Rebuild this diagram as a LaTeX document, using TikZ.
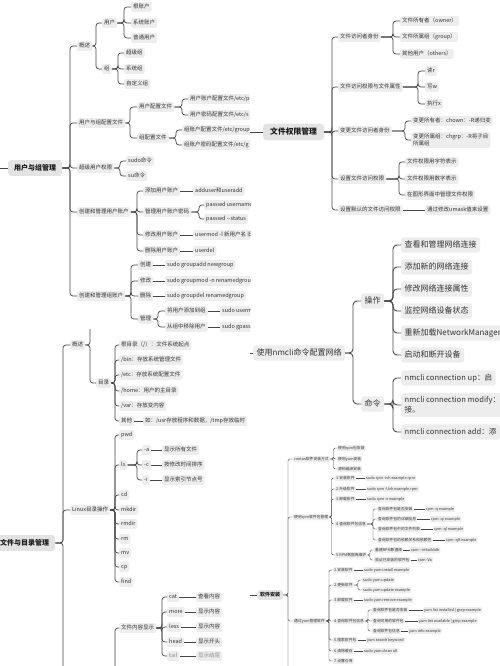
\documentclass[tikz,border=0pt]{standalone}
\usepackage{fontspec}
\setmainfont{Noto Sans CJK SC}
\usetikzlibrary{calc}
\tikzstyle{leaf}=[anchor=west, fill=black!7, rounded corners=2pt, inner sep=2pt, text=black!80, text height=4.6pt, text depth=1.2pt, font=\fontsize{5.5}{6.5}\selectfont]
\tikzstyle{bigleaf}=[leaf, inner sep=3.5pt, rounded corners=3pt, text height=6.8pt, text depth=1.6pt, font=\fontsize{8}{10}\selectfont]
\tikzstyle{cmdleaf}=[bigleaf, font=\fontsize{7.6}{10}\selectfont]
\tikzstyle{tinyleaf}=[leaf, inner sep=1pt, rounded corners=1pt, text height=3.2pt, text depth=0.8pt, font=\fontsize{3.8}{4.5}\selectfont]
\tikzstyle{rootbox}=[anchor=west, fill=black!11, rounded corners=3pt, inner xsep=6pt, inner ysep=4.5pt, text=black!90, font=\bfseries\fontsize{7}{8}\selectfont]
\tikzstyle{branch}=[draw=black!72, line width=0.7pt, rounded corners=3pt]
\tikzstyle{thickbranch}=[branch, line width=0.9pt, rounded corners=4pt]
\tikzstyle{thinbranch}=[branch, line width=0.4pt, rounded corners=1.5pt]

\begin{document}
\begin{tikzpicture}[x=1pt,y=-1pt]
\useasboundingbox (0,0) rectangle (500,666);
\fill[white] (0,0) rectangle (500,666);

\begin{scope}
\clip (0,0) rectangle (250,666);
\draw (8,168) node[rootbox] (ugm) {用户与组管理};
\coordinate (ugIn) at (0,168);
\draw (77,46) node[leaf] (ugOver) {概述};
\draw (102,23) node[leaf] (ugUser) {用户};
\draw (102,69) node[leaf] (ugGroup) {组};
\draw (131,7) node[leaf] (uRoot) {根账户};
\draw (131,23) node[leaf] (uSys) {系统账户};
\draw (131,38) node[leaf] (uNorm) {普通用户};
\draw (124,53) node[leaf] (gSuper) {超级组};
\draw (124,69) node[leaf] (gSys) {系统组};
\draw (124,84) node[leaf] (gCustom) {自定义组};
\draw (77,123) node[leaf] (ugConf) {用户与组配置文件};
\draw (137,107) node[leaf] (uConf) {用户配置文件};
\draw (137,138) node[leaf] (gConf) {组配置文件};
\draw (188,99) node[leaf] (uPasswd) {用户账户配置文件/etc/p};
\draw (188,115) node[leaf] (uShadow) {用户密码配置文件/etc/s};
\draw (182,130) node[leaf] (gGroup) {组账户配置文件/etc/group};
\draw (182,145) node[leaf] (gGshadow) {组账户密码配置文件/etc/g};
\draw (77,168) node[leaf] (suPriv) {超级用户权限};
\draw (126,161) node[leaf] (sudoCmd) {sudo命令};
\draw (126,176) node[leaf] (suCmd) {su命令};
\draw (77,212) node[leaf] (uMgr) {创建和管理用户账户};
\draw (143,191) node[leaf] (uAdd) {添加用户账户};
\draw (193,191) node[leaf] (uAddCmd) {adduser和useradd};
\draw (143,212) node[leaf] (uPwd) {管理用户账户密码};
\draw (204,205) node[leaf] (pwdSet) {passwd username};
\draw (204,219) node[leaf] (pwdStat) {passwd -{}-status};
\draw (143,235) node[leaf] (uMod) {修改用户账户};
\draw (193,235) node[leaf] (uModCmd) {usermod -l 新用户名 旧};
\draw (143,251) node[leaf] (uDel) {删除用户账户};
\draw (193,251) node[leaf] (uDelCmd) {userdel};
\draw (77,296) node[leaf] (gMgr) {创建和管理组账户};
\draw (138,265) node[leaf] (gAdd) {创建};
\draw (165,265) node[leaf] (gAddCmd) {sudo groupadd newgroup};
\draw (138,281) node[leaf] (gMod) {修改};
\draw (165,281) node[leaf] (gModCmd) {sudo groupmod -n renamedgroup};
\draw (138,296) node[leaf] (gDel) {删除};
\draw (165,296) node[leaf] (gDelCmd) {sudo groupdel renamedgroup};
\draw (138,319) node[leaf] (gManage) {管理};
\draw (165,311) node[leaf] (gJoin) {将用户添加到组};
\draw (220,311) node[leaf] (gJoinCmd) {sudo userm};
\draw (165,327) node[leaf] (gLeave) {从组中移除用户};
\draw (220,327) node[leaf] (gLeaveCmd) {sudo gpass};

\draw[branch] (ugIn) -- (ugm);
\foreach \kid in {ugOver,ugConf,suPriv,uMgr,gMgr} \draw[branch] (ugm.east) -| ($(\kid.west)+(-7,0)$) -- (\kid.west);
\foreach \kid in {ugUser,ugGroup} \draw[branch] (ugOver.east) -| ($(\kid.west)+(-6,0)$) -- (\kid.west);
\foreach \kid in {uRoot,uSys,uNorm} \draw[branch] (ugUser.east) -| ($(\kid.west)+(-7,0)$) -- (\kid.west);
\foreach \kid in {gSuper,gSys,gCustom} \draw[branch] (ugGroup.east) -| ($(\kid.west)+(-6,0)$) -- (\kid.west);
\foreach \kid in {uConf,gConf} \draw[branch] (ugConf.east) -| ($(\kid.west)+(-7,0)$) -- (\kid.west);
\foreach \kid in {uPasswd,uShadow} \draw[branch] (uConf.east) -| ($(\kid.west)+(-6,0)$) -- (\kid.west);
\foreach \kid in {gGroup,gGshadow} \draw[branch] (gConf.east) -| ($(\kid.west)+(-6,0)$) -- (\kid.west);
\foreach \kid in {sudoCmd,suCmd} \draw[branch] (suPriv.east) -| ($(\kid.west)+(-6,0)$) -- (\kid.west);
\foreach \kid in {uAdd,uPwd,uMod,uDel} \draw[branch] (uMgr.east) -| ($(\kid.west)+(-6,0)$) -- (\kid.west);
\foreach \kid in {pwdSet,pwdStat} \draw[branch] (uPwd.east) -| ($(\kid.west)+(-5,0)$) -- (\kid.west);
\foreach \kid in {gAdd,gMod,gDel,gManage} \draw[branch] (gMgr.east) -| ($(\kid.west)+(-7,0)$) -- (\kid.west);
\foreach \kid in {gJoin,gLeave} \draw[branch] (gManage.east) -| ($(\kid.west)+(-7,0)$) -- (\kid.west);
\draw[branch] (uAdd) -- (uAddCmd);
\draw[branch] (uMod) -- (uModCmd);
\draw[branch] (uDel) -- (uDelCmd);
\draw[branch] (gAdd) -- (gAddCmd);
\draw[branch] (gMod) -- (gModCmd);
\draw[branch] (gDel) -- (gDelCmd);
\draw[branch] (gJoin) -- (gJoinCmd);
\draw[branch] (gLeave) -- (gLeaveCmd);

\draw (-6,543) node[rootbox] (fdm) {文件与目录管理};
\coordinate (cutA) at (90,329);
\coordinate (cutB) at (115,672);
\coordinate (cutC) at (63,672);
\draw (70,345) node[leaf] (fdOver) {概述};
\draw (96,383) node[leaf] (fdDir) {目录};
\draw (119,345) node[leaf] (dRoot) {根目录（/）：文件系统起点};
\draw (119,360) node[leaf] (dBin) {/bin：存放系统管理文件};
\draw (119,375) node[leaf] (dEtc) {/etc：存放系统配置文件};
\draw (119,391) node[leaf] (dHome) {/home：用户的主目录};
\draw (119,406) node[leaf] (dVar) {/var：存放变内容};
\draw (119,421) node[leaf] (dOther) {其他};
\draw (143,421) node[leaf] (dOtherTxt) {如：/usr存放程序和数据，/tmp存放临时};
\draw (70,510) node[leaf] (fdOps) {Linux目录操作};
\draw (119,435) node[leaf] (oPwd) {pwd};
\draw (119,465) node[leaf] (oLs) {ls};
\draw (119,495) node[leaf] (oCd) {cd};
\draw (119,510) node[leaf] (oMkdir) {mkdir};
\draw (119,524) node[leaf] (oRmdir) {rmdir};
\draw (119,539) node[leaf] (oRm) {rm};
\draw (119,553) node[leaf] (oMv) {mv};
\draw (119,567) node[leaf] (oCp) {cp};
\draw (119,582) node[leaf] (oFind) {find};
\draw (142,450) node[leaf] (lsA) {-a};
\draw (142,465) node[leaf] (lsC) {-c};
\draw (142,480) node[leaf] (lsI) {-i};
\draw (162,450) node[leaf] (lsAt) {显示所有文件};
\draw (162,465) node[leaf] (lsCt) {按修改时间排序};
\draw (162,480) node[leaf] (lsIt) {显示索引节点号};
\draw (119,628) node[leaf] (fShow) {文件内容显示};
\draw (167,597) node[leaf] (sCat) {cat};
\draw (167,612) node[leaf] (sMore) {more};
\draw (167,627) node[leaf] (sLess) {less};
\draw (167,642) node[leaf] (sHead) {head};
\draw (167,656) node[leaf, text=black!45] (sTail) {tail};
\draw (196,597) node[leaf] (sCatT) {查看内容};
\draw (196,612) node[leaf] (sMoreT) {显示内容};
\draw (196,627) node[leaf] (sLessT) {显示内容};
\draw (196,642) node[leaf] (sHeadT) {显示开头};
\draw (196,656) node[leaf, text=black!45] (sTailT) {显示结尾};

\foreach \kid in {fdOver,fdOps} \draw[branch] (fdm.east) -| ($(\kid.west)+(-7,0)$) -- (\kid.west);
\draw[branch] (fdm.east) -| (cutC);
\draw[branch] (fdOver.east) -| (cutA);
\draw[branch] (fdOver.east) -| ($(fdDir.west)+(-6,0)$) -- (fdDir.west);
\foreach \kid in {dRoot,dBin,dEtc,dHome,dVar,dOther} \draw[branch] (fdDir.east) -| ($(\kid.west)+(-4,0)$) -- (\kid.west);
\draw[branch] (dOther) -- (dOtherTxt);
\foreach \kid in {oPwd,oLs,oCd,oMkdir,oRmdir,oRm,oMv,oCp,oFind} \draw[branch] (fdOps.east) -| ($(\kid.west)+(-4,0)$) -- (\kid.west);
\foreach \kid in {lsA,lsC,lsI} \draw[branch] (oLs.east) -| ($(\kid.west)+(-5,0)$) -- (\kid.west);
\draw[branch] (lsA) -- (lsAt);
\draw[branch] (lsC) -- (lsCt);
\draw[branch] (lsI) -- (lsIt);
\draw[branch] (cutB) |- (fShow.west);
\foreach \kid in {sCat,sMore,sLess,sHead,sTail} \draw[branch] (fShow.east) -| ($(\kid.west)+(-5,0)$) -- (\kid.west);
\draw[branch] (sCat) -- (sCatT);
\draw[branch] (sMore) -- (sMoreT);
\draw[branch] (sLess) -- (sLessT);
\draw[branch] (sHead) -- (sHeadT);
\draw[branch] (sTail) -- (sTailT);
\end{scope}

\begin{scope}
\clip (250,0) rectangle (500,666);
\draw (263,132) node[rootbox, font=\bfseries\fontsize{7.8}{9}\selectfont, inner xsep=7pt] (fpm) {文件权限管理};
\coordinate (fpIn) at (250,132);
\draw (338,37) node[leaf] (pa) {文件访问者身份};
\draw (338,87) node[leaf] (pb) {文件访问权限与文件属性};
\draw (338,131) node[leaf] (pc) {变更文件访问者身份};
\draw (338,179) node[leaf] (pd) {设置文件访问权限};
\draw (338,210) node[leaf] (pe) {设置默认的文件访问权限};
\draw (400,21) node[leaf] (pa1) {文件所有者（owner）};
\draw (400,37) node[leaf] (pa2) {文件所属组（group）};
\draw (400,54) node[leaf] (pa3) {其他用户（others）};
\draw (425,71) node[leaf] (pb1) {读r};
\draw (425,87) node[leaf] (pb2) {写w};
\draw (425,104) node[leaf] (pb3) {执行x};
\draw (411,121) node[leaf] (pc1) {变更所有者：chown：-R递归变};
\draw (411,140) node[leaf, align=left, text height=, text depth=] (pc2) {变更所属组：chgrp：-R将子目\\所属组};
\draw (405,162) node[leaf] (pd1) {文件权限用字符表示};
\draw (405,179) node[leaf] (pd2) {文件权限用数字表示};
\draw (405,195) node[leaf] (pd3) {在图形界面中管理文件权限};
\draw (425,210) node[leaf] (pe1) {通过修改umask值来设置};

\draw[branch] (fpIn) -- (fpm);
\foreach \kid in {pa,pb,pc,pd,pe} \draw[branch] (fpm.east) -| ($(\kid.west)+(-6,0)$) -- (\kid.west);
\foreach \kid in {pa1,pa2,pa3} \draw[branch] (pa.east) -| ($(\kid.west)+(-7,0)$) -- (\kid.west);
\foreach \kid in {pb1,pb2,pb3} \draw[branch] (pb.east) -| ($(\kid.west)+(-7,0)$) -- (\kid.west);
\foreach \kid in {pc1,pc2} \draw[branch] (pc.east) -| ($(\kid.west)+(-6,0)$) -- (\kid.west);
\foreach \kid in {pd1,pd2,pd3} \draw[branch] (pd.east) -| ($(\kid.west)+(-6,0)$) -- (\kid.west);
\draw[branch] (pe) -- (pe1);

\draw (253,353) node[bigleaf] (nm) {使用nmcli命令配置网络};
\coordinate (nmIn) at (250,353);
\draw (361,301) node[bigleaf] (nOp) {操作};
\draw (361,404) node[bigleaf] (nCmd) {命令};
\draw (401,245) node[bigleaf] (no1) {查看和管理网络连接};
\draw (401,267) node[bigleaf] (no2) {添加新的网络连接};
\draw (401,289) node[bigleaf] (no3) {修改网络连接属性};
\draw (401,311) node[bigleaf] (no4) {监控网络设备状态};
\draw (401,333) node[bigleaf] (no5) {重新加载NetworkManager};
\draw (401,355) node[bigleaf] (no6) {启动和断开设备};
\draw (401,378) node[cmdleaf] (nc1) {nmcli connection up：启};
\draw (401,405) node[cmdleaf, align=left, text height=, text depth=] (nc2) {nmcli connection modify：\\接。};
\draw (401,432) node[cmdleaf] (nc3) {nmcli connection add：添};

\draw[thickbranch] (nmIn) -- (nm);
\foreach \kid in {nOp,nCmd} \draw[thickbranch] (nm.east) -| ($(\kid.west)+(-8,0)$) -- (\kid.west);
\foreach \kid in {no1,no2,no3,no4,no5,no6} \draw[thickbranch] (nOp.east) -| ($(\kid.west)+(-8,0)$) -- (\kid.west);
\foreach \kid in {nc1,nc2,nc3} \draw[thickbranch] (nCmd.east) -| ($(\kid.west)+(-8,0)$) -- (\kid.west);

\draw (257,595) node[rootbox, font=\bfseries\fontsize{5}{6}\selectfont, inner xsep=3pt, inner ysep=2.5pt] (swm) {软件安装};
\coordinate (swIn) at (250,595);
\coordinate (cutD) at (288,672);
\draw (293,459) node[tinyleaf] (sa) {centos软件安装方式};
\draw (293,517) node[tinyleaf] (sb) {使用rpm软件包管理};
\draw (293,621) node[tinyleaf] (sc) {通过yum管理软件};
\draw (337,448) node[tinyleaf] (sa1) {使用rpm包安装};
\draw (337,459) node[tinyleaf] (sa2) {使用yum安装};
\draw (337,469) node[tinyleaf] (sa3) {源码编译安装};
\draw (335,478) node[tinyleaf] (sb1) {1.安装软件};
\draw (335,489) node[tinyleaf] (sb2) {2.升级软件};
\draw (335,499) node[tinyleaf] (sb3) {3.卸载软件};
\draw (335,524) node[tinyleaf] (sb4) {4.查询软件包信息};
\draw (335,555) node[tinyleaf] (sb5) {5.RPM数据库维护};
\draw (365,478) node[tinyleaf] (sb1c) {sudo rpm -ivh example.rpm};
\draw (366,489) node[tinyleaf] (sb2c) {sudo rpm -Uvh example.rpm};
\draw (366,499) node[tinyleaf] (sb3c) {sudo rpm -e example};
\draw (377,509) node[tinyleaf] (sb41) {查询软件包是否安装};
\draw (377,519) node[tinyleaf] (sb42) {查询软件包的详细信息};
\draw (377,529) node[tinyleaf] (sb43) {查询软件包中的文件列表};
\draw (377,540) node[tinyleaf] (sb44) {查询软件包的依赖关系和依赖性};
\draw (425,509) node[tinyleaf] (sb41c) {rpm -q example};
\draw (430,519) node[tinyleaf] (sb42c) {rpm -qi example};
\draw (433,529) node[tinyleaf] (sb43c) {rpm -ql example};
\draw (445,540) node[tinyleaf] (sb44c) {rpm -qR example};
\draw (374,550) node[tinyleaf] (sb51) {重建RPM数据库};
\draw (374,560) node[tinyleaf] (sb52) {验证已安装的软件包};
\draw (410,550) node[tinyleaf] (sb51c) {rpm -{}-rebuilddb};
\draw (417,560) node[tinyleaf] (sb52c) {rpm -Va};
\draw (333,570) node[tinyleaf] (sc1) {1.安装软件};
\draw (333,585) node[tinyleaf] (sc2) {2.更新软件};
\draw (333,600) node[tinyleaf] (sc3) {3.卸载软件};
\draw (333,621) node[tinyleaf] (sc4) {4.查询软件包信息};
\draw (333,640) node[tinyleaf] (sc5) {5.搜索软件包};
\draw (333,651) node[tinyleaf] (sc6) {6.清除缓存};
\draw (333,661) node[tinyleaf] (sc7) {7.设置仓库};
\draw (363,570) node[tinyleaf] (sc1c) {sudo yum install example};
\draw (362,580) node[tinyleaf] (sc21) {sudo yum update};
\draw (362,590) node[tinyleaf] (sc22) {sudo yum update example};
\draw (363,600) node[tinyleaf] (sc3c) {sudo yum remove example};
\draw (372,610) node[tinyleaf] (sc41) {查询软件包是否安装};
\draw (372,621) node[tinyleaf] (sc42) {查询可用的软件包};
\draw (372,631) node[tinyleaf] (sc43) {查询软件包信息};
\draw (423,610) node[tinyleaf] (sc41c) {yum list installed | grep example};
\draw (418,621) node[tinyleaf] (sc42c) {yum list available | grep example};
\draw (408,631) node[tinyleaf] (sc43c) {yum info example};
\draw (366,640) node[tinyleaf] (sc5c) {yum search keyword};
\draw (363,651) node[tinyleaf] (sc6c) {sudo yum clean all};

\draw[thinbranch] (swIn) -- (swm);
\foreach \kid in {sa,sb,sc} \draw[thinbranch] (swm.east) -| ($(\kid.west)+(-5,0)$) -- (\kid.west);
\draw[thinbranch] (swm.east) -| (cutD);
\foreach \kid in {sa1,sa2,sa3} \draw[thinbranch] (sa.east) -| ($(\kid.west)+(-3.5,0)$) -- (\kid.west);
\foreach \kid in {sb1,sb2,sb3,sb4,sb5} \draw[thinbranch] (sb.east) -| ($(\kid.west)+(-3.5,0)$) -- (\kid.west);
\foreach \kid in {sb41,sb42,sb43,sb44} \draw[thinbranch] (sb4.east) -| ($(\kid.west)+(-4,0)$) -- (\kid.west);
\foreach \kid in {sb51,sb52} \draw[thinbranch] (sb5.east) -| ($(\kid.west)+(-4,0)$) -- (\kid.west);
\foreach \kid in {sc1,sc2,sc3,sc4,sc5,sc6,sc7} \draw[thinbranch] (sc.east) -| ($(\kid.west)+(-4,0)$) -- (\kid.west);
\foreach \kid in {sc21,sc22} \draw[thinbranch] (sc2.east) -| ($(\kid.west)+(-4,0)$) -- (\kid.west);
\foreach \kid in {sc41,sc42,sc43} \draw[thinbranch] (sc4.east) -| ($(\kid.west)+(-4,0)$) -- (\kid.west);
\draw[thinbranch] (sb1) -- (sb1c);
\draw[thinbranch] (sb2) -- (sb2c);
\draw[thinbranch] (sb3) -- (sb3c);
\draw[thinbranch] (sb41) -- (sb41c);
\draw[thinbranch] (sb42) -- (sb42c);
\draw[thinbranch] (sb43) -- (sb43c);
\draw[thinbranch] (sb44) -- (sb44c);
\draw[thinbranch] (sb51) -- (sb51c);
\draw[thinbranch] (sb52) -- (sb52c);
\draw[thinbranch] (sc1) -- (sc1c);
\draw[thinbranch] (sc3) -- (sc3c);
\draw[thinbranch] (sc41) -- (sc41c);
\draw[thinbranch] (sc42) -- (sc42c);
\draw[thinbranch] (sc43) -- (sc43c);
\draw[thinbranch] (sc5) -- (sc5c);
\draw[thinbranch] (sc6) -- (sc6c);
\end{scope}
\end{tikzpicture}
\end{document}
